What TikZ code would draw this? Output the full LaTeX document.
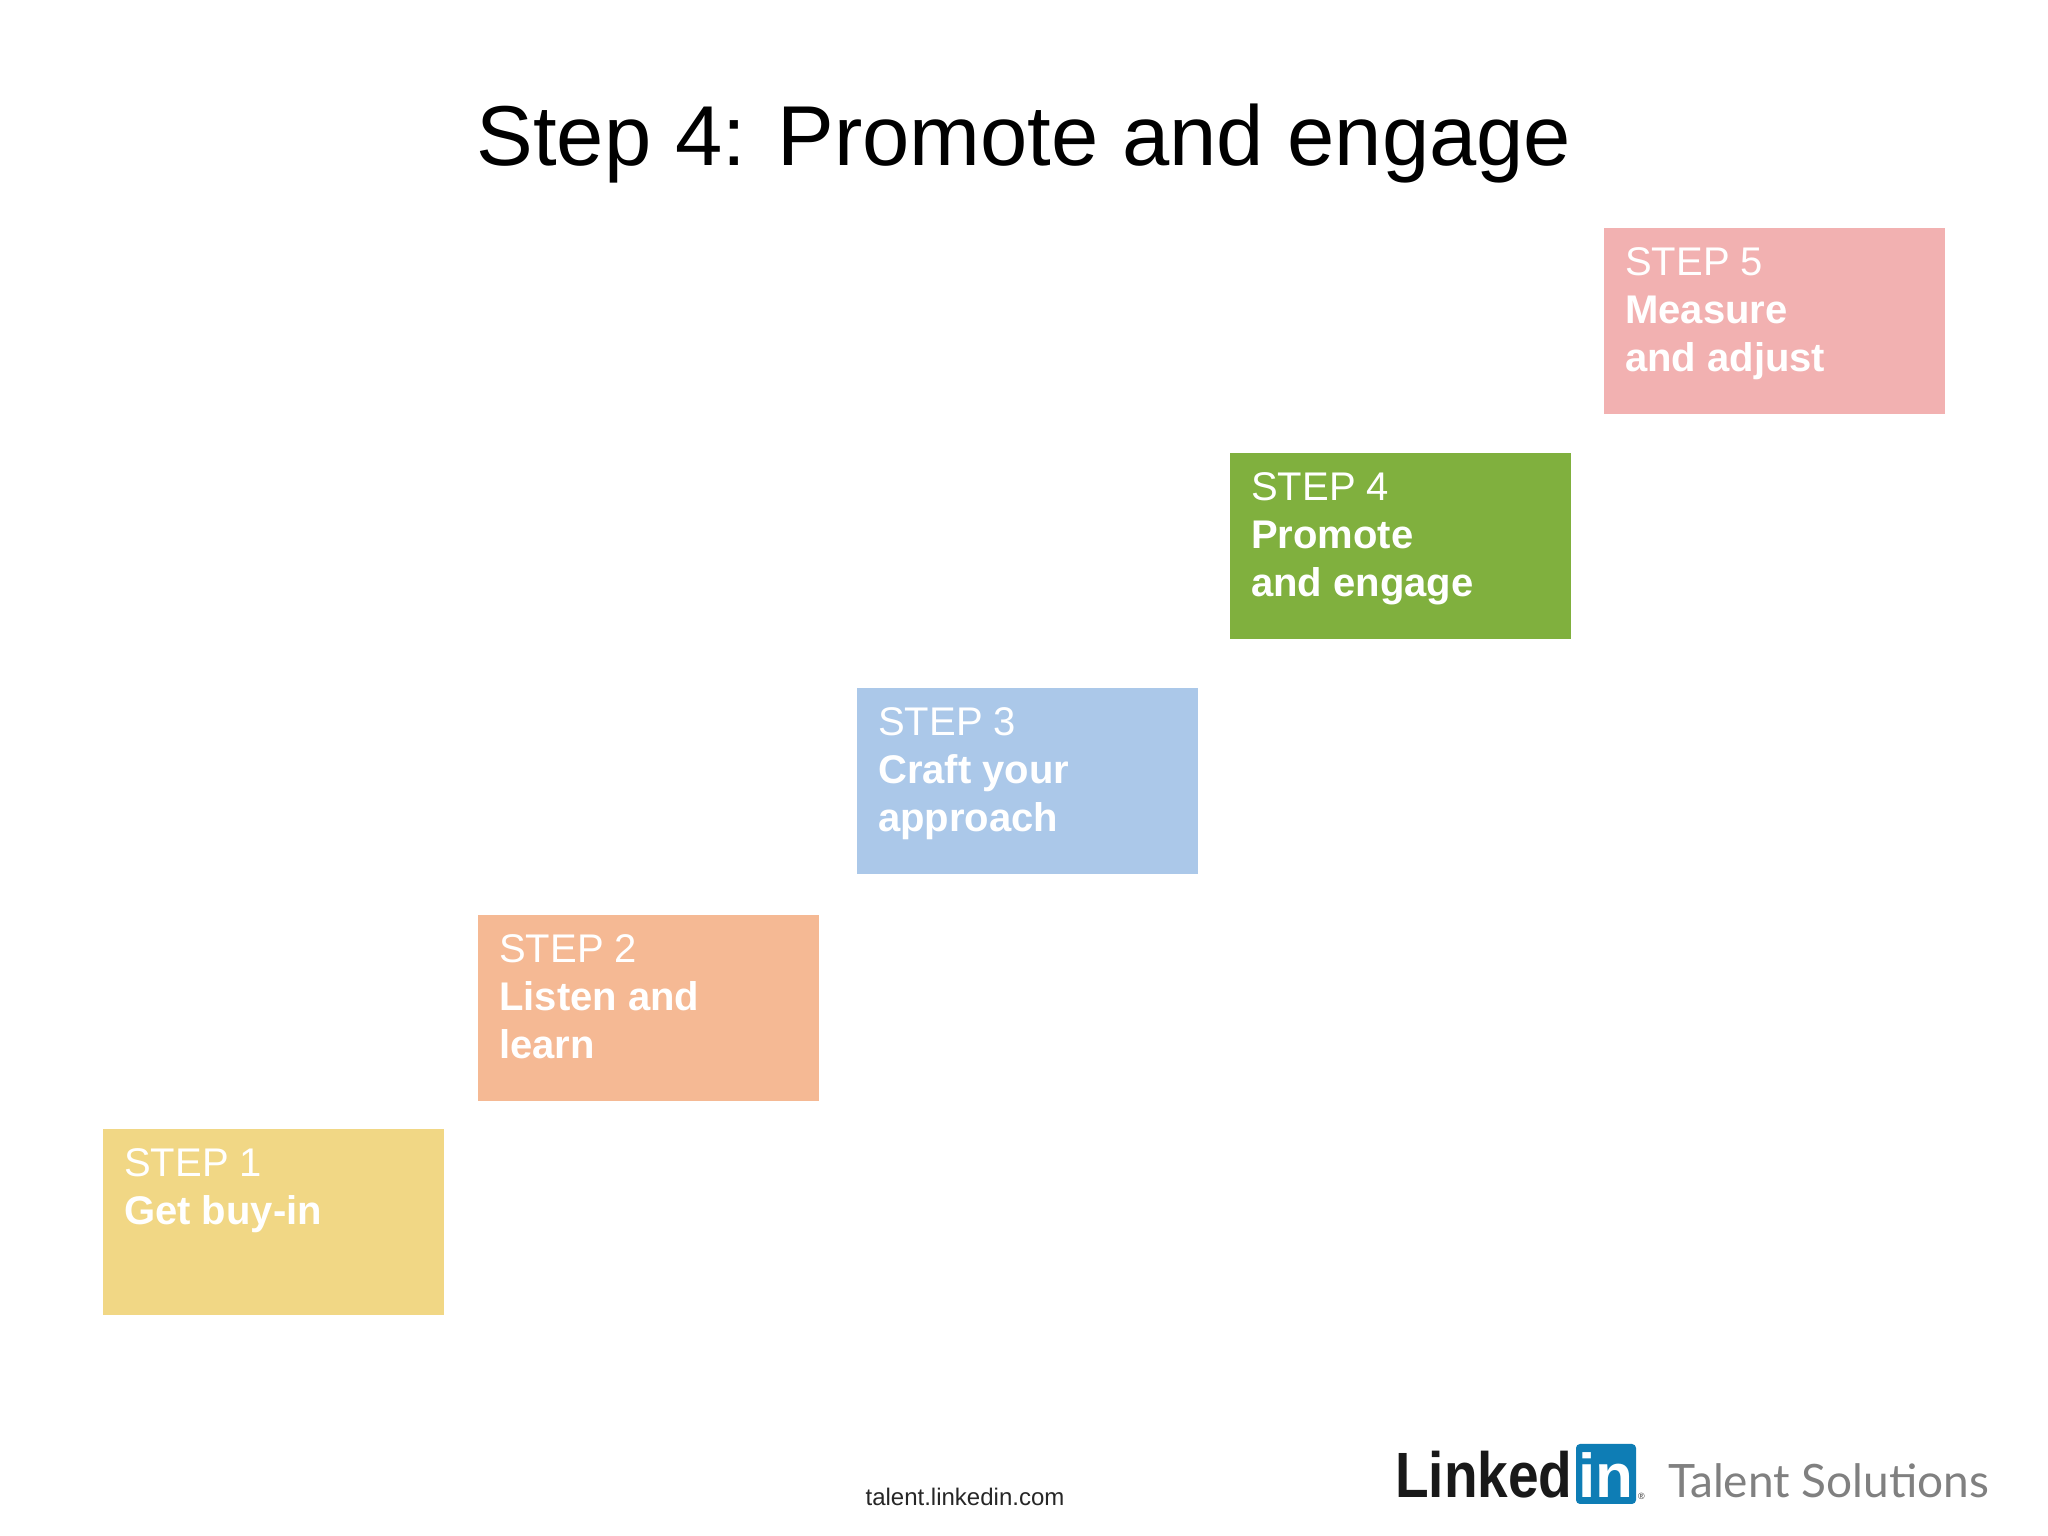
\documentclass[tikz,border=0pt]{standalone}
\usepackage{fontspec}
\setmainfont{Liberation Sans}
\newfontfamily\latofont{Lato}
\begin{document}
\begin{tikzpicture}[x=1pt,y=1pt,
  stepbox/.style={draw=none,anchor=south west,inner sep=0pt},
  steptxt/.style={anchor=north west,align=left,text=white,inner sep=0pt,font=\fontsize{40}{48}\selectfont}]
\useasboundingbox (0,0) rectangle (2048,1536);
\fill[white] (0,0) rectangle (2048,1536);
\definecolor{c1}{HTML}{F1D785}\definecolor{c2}{HTML}{F5B994}\definecolor{c3}{HTML}{ABC8E9}
\definecolor{c4}{HTML}{80B03E}\definecolor{c5}{HTML}{F2B1B1}\definecolor{lblue}{HTML}{0E7DB5}
\node[anchor=base,font=\fontsize{85}{90}\selectfont] (title) at (1024,1370) {Step 4: Promote and engage};
\foreach \n/\x/\y/\c/\a/\b in {1/103/221/c1/{Get buy-in}/{},2/478/435/c2/{Listen and}/{learn},3/857/662/c3/{Craft your}/{approach},4/1230/897/c4/{Promote}/{and engage},5/1604/1122/c5/{Measure}/{and adjust}}{
  \fill[\c] (\x,\y) rectangle ++(341,186);
  \node[steptxt] (s\n) at (\x+21,\y+186-19) {STEP \n\\\textbf{\a}\\\textbf{\b}};
}
\node[anchor=base,font=\fontsize{24}{28}\selectfont,text=black!85] (url) at (965,30) {talent.linkedin.com};
\node[anchor=base west,inner sep=0pt,xscale=0.86,transform shape,font=\fontsize{64}{64}\selectfont\bfseries,text=black!90] (lk) at (1395,38) {Linked};
\fill[lblue,rounded corners=4pt] (1576,32) rectangle (1636,92);
\node[anchor=base,inner sep=0pt,font=\fontsize{62}{62}\selectfont\bfseries,text=white] (in) at (1606,38) {in};
\node[anchor=base west,inner sep=0pt,font=\fontsize{9}{9}\selectfont,text=black!80] (reg) at (1638,36) {®};
\node[anchor=base west,inner sep=0pt,font=\latofont\fontsize{46}{46}\selectfont,text=black!50] (ts) at (1668,38) {Talent Solutions};
\end{tikzpicture}
\end{document}
